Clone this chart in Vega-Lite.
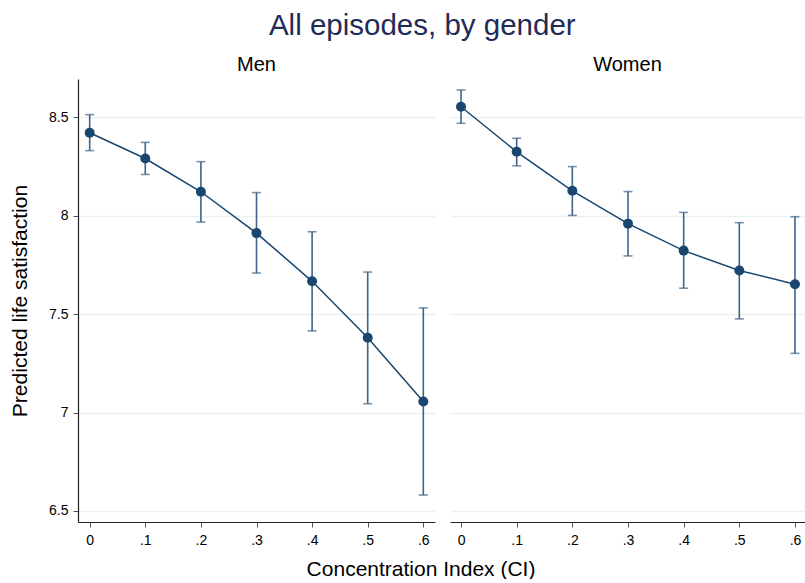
{
  "$schema": "https://vega.github.io/schema/vega-lite/v6.json",
  "background": "white",
  "padding": {"left": 9, "top": 10, "right": 0, "bottom": 0},
  "bounds": "flush",
  "title": {"text": "All episodes, by gender", "fontSize": 29.5, "fontWeight": "normal", "font": "Liberation Sans", "color": "#1f2c56", "anchor": "middle", "frame": "bounds", "offset": 14, "dx": 15},
  "data": {"values": [
    {"gender": "Men", "ci": 0.0, "pred": 8.422, "lo": 8.331, "hi": 8.514},
    {"gender": "Men", "ci": 0.1, "pred": 8.291, "lo": 8.210, "hi": 8.373},
    {"gender": "Men", "ci": 0.2, "pred": 8.122, "lo": 7.968, "hi": 8.275},
    {"gender": "Men", "ci": 0.3, "pred": 7.912, "lo": 7.709, "hi": 8.118},
    {"gender": "Men", "ci": 0.4, "pred": 7.667, "lo": 7.415, "hi": 7.919},
    {"gender": "Men", "ci": 0.5, "pred": 7.380, "lo": 7.045, "hi": 7.714},
    {"gender": "Men", "ci": 0.6, "pred": 7.056, "lo": 6.581, "hi": 7.532},
    {"gender": "Women", "ci": 0.0, "pred": 8.554, "lo": 8.470, "hi": 8.639},
    {"gender": "Women", "ci": 0.1, "pred": 8.325, "lo": 8.254, "hi": 8.394},
    {"gender": "Women", "ci": 0.2, "pred": 8.127, "lo": 8.002, "hi": 8.250},
    {"gender": "Women", "ci": 0.3, "pred": 7.960, "lo": 7.796, "hi": 8.123},
    {"gender": "Women", "ci": 0.4, "pred": 7.823, "lo": 7.632, "hi": 8.017},
    {"gender": "Women", "ci": 0.5, "pred": 7.722, "lo": 7.476, "hi": 7.965},
    {"gender": "Women", "ci": 0.6, "pred": 7.652, "lo": 7.301, "hi": 7.995}
  ]},
  "spacing": 15,
  "config": {
    "view": {"stroke": null},
    "font": "Liberation Sans",
    "axis": {"labelFont": "Liberation Sans", "titleFont": "Liberation Sans", "labelColor": "black", "titleColor": "black", "titleFontWeight": "normal", "tickColor": "#555", "tickSize": 5, "domainColor": "#222", "domainWidth": 1.2, "gridColor": "#e9f1f2", "gridWidth": 1.5}
  },
  "hconcat": [
    {
      "title": {"text": "Men", "fontSize": 20, "fontWeight": "normal", "color": "black", "offset": 4},
      "width": 357,
      "height": 443,
      "transform": [{"filter": "datum.gender === 'Men'"}],
      "encoding": {
        "x": {"field": "ci", "type": "quantitative",
          "scale": {"domain": [-0.021, 0.621], "nice": false, "zero": false},
          "axis": {"values": [0, 0.1, 0.2, 0.3, 0.4, 0.5, 0.6], "labelExpr": "datum.value == 0 ? '0' : replace(format(datum.value, '.1f'), '0.', '.')", "labelFontSize": 14, "labelPadding": 6, "grid": false, "title": "Concentration Index (CI)", "titleFontSize": 21, "titlePadding": 11, "titleX": 342.5}
        }
      },
      "layer": [
        {
          "mark": {"type": "rule", "color": "#3e6489", "strokeWidth": 1.6},
          "encoding": {
            "y": {"field": "lo", "type": "quantitative",
              "scale": {"domain": [6.444, 8.695], "nice": false, "zero": false},
              "axis": {"values": [6.5, 7, 7.5, 8, 8.5], "labelExpr": "'' + datum.value", "labelFontSize": 14, "labelPadding": 5, "grid": true, "title": "Predicted life satisfaction", "titleFontSize": 21, "titlePadding": 18}
            },
            "y2": {"field": "hi"}
          }
        },
        {
          "mark": {"type": "tick", "orient": "horizontal", "color": "#3e6489", "size": 9, "thickness": 1.6},
          "encoding": {"y": {"field": "lo", "type": "quantitative"}}
        },
        {
          "mark": {"type": "tick", "orient": "horizontal", "color": "#3e6489", "size": 9, "thickness": 1.6},
          "encoding": {"y": {"field": "hi", "type": "quantitative"}}
        },
        {
          "mark": {"type": "line", "color": "#1a476f", "strokeWidth": 1.5},
          "encoding": {"y": {"field": "pred", "type": "quantitative"}}
        },
        {
          "mark": {"type": "point", "filled": true, "opacity": 1, "color": "#1a476f", "size": 100},
          "encoding": {"y": {"field": "pred", "type": "quantitative"}}
        }
      ]
    },
    {
      "title": {"text": "Women", "fontSize": 20, "fontWeight": "normal", "color": "black", "offset": 4},
      "width": 355,
      "height": 443,
      "transform": [{"filter": "datum.gender === 'Women'"}],
      "encoding": {
        "x": {"field": "ci", "type": "quantitative",
          "scale": {"domain": [-0.0198, 0.618], "nice": false, "zero": false},
          "axis": {"values": [0, 0.1, 0.2, 0.3, 0.4, 0.5, 0.6], "labelExpr": "datum.value == 0 ? '0' : replace(format(datum.value, '.1f'), '0.', '.')", "labelFontSize": 14, "labelPadding": 6, "grid": false, "title": null}
        }
      },
      "layer": [
        {
          "mark": {"type": "rule", "color": "#3e6489", "strokeWidth": 1.6},
          "encoding": {
            "y": {"field": "lo", "type": "quantitative",
              "scale": {"domain": [6.444, 8.695], "nice": false, "zero": false},
              "axis": {"values": [6.5, 7, 7.5, 8, 8.5], "labels": false, "ticks": false, "domain": false, "grid": true, "title": null}
            },
            "y2": {"field": "hi"}
          }
        },
        {
          "mark": {"type": "tick", "orient": "horizontal", "color": "#3e6489", "size": 9, "thickness": 1.6},
          "encoding": {"y": {"field": "lo", "type": "quantitative"}}
        },
        {
          "mark": {"type": "tick", "orient": "horizontal", "color": "#3e6489", "size": 9, "thickness": 1.6},
          "encoding": {"y": {"field": "hi", "type": "quantitative"}}
        },
        {
          "mark": {"type": "line", "color": "#1a476f", "strokeWidth": 1.5},
          "encoding": {"y": {"field": "pred", "type": "quantitative"}}
        },
        {
          "mark": {"type": "point", "filled": true, "opacity": 1, "color": "#1a476f", "size": 100},
          "encoding": {"y": {"field": "pred", "type": "quantitative"}}
        }
      ]
    }
  ]
}
